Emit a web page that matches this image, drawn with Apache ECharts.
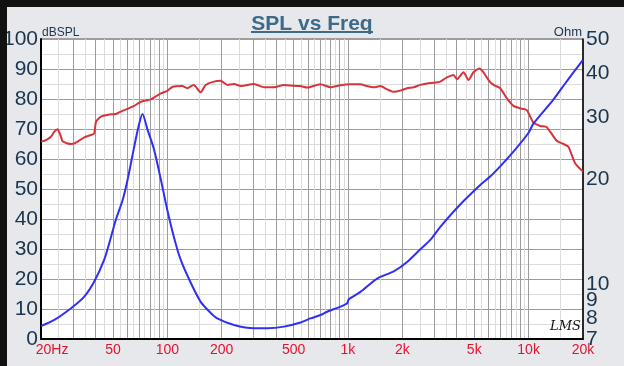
<!DOCTYPE html>
<html>
<head>
<meta charset="utf-8">
<script src="https://cdn.jsdelivr.net/npm/echarts@6/dist/echarts.min.js"></script>
<style>
html,body{margin:0;padding:0;background:#111;}
#chart{width:624px;height:366px;}
</style>
</head>
<body>
<div id="chart"></div>
<script>
// SPL curve (red, left axis dBSPL)
const splFreq = [20,21.3,22.7,23.7,24.7,25.6,26.4,29.3,30.6,34.7,37.8,39.4,40.3,42.9,48.7,51.9,55.3,65.6,71.4,81.1,92.1,100,107,121,129,140,153,163,181,197,215,234,255,302,343,389,442,501,546,595,676,705,800,909,1030,1170,1280,1390,1510,1650,1790,1950,2120,2310,2510,2740,2980,3240,3530,3840,4010,4360,4650,4950,5330,5630,6000,6390,6960,7580,8240,8970,9770,10600,11600,12600,14300,15600,16600,18100,20000];
const splDb = [65.8,66.3,67.4,69.1,69.9,68.0,65.8,65.0,65.2,67.2,68.0,68.5,72.4,74.1,74.9,75.0,75.8,77.7,79.1,79.9,81.9,82.7,84.1,84.3,83.6,84.7,82.2,84.7,85.8,86.1,84.7,85.0,84.3,85.0,83.9,83.9,84.7,84.4,84.3,83.8,84.7,84.9,83.9,84.6,84.9,84.9,84.3,83.9,84.3,83.2,82.4,82.8,83.6,83.9,84.7,85.2,85.4,85.8,87.2,88.0,86.6,88.9,86.3,88.9,90.2,88.9,86.3,84.7,83.6,80.2,77.7,76.9,76.3,72.2,71.0,70.6,66.1,65.0,64.1,58.6,55.8];

// Impedance curve (blue, right axis Ohm)
const impFreq = [20,23.7,29.3,34.7,39.4,44.7,47.7,51.9,56.6,60.3,65.6,69.3,72.9,77.7,84.5,92.1,100,109,118.7,135,153,174,189,234,302,358,442,546,620,705,767,909,990,1010,1172,1450,1791,2124,2514,2856,3244,4182,5396,6128,6958,8242,9972,10628,13710,16256,20000];
const impOhm = [7.62,7.93,8.56,9.24,10.2,11.75,13.1,15.3,17.4,19.9,24.7,28.2,30.6,27.6,24.2,19.9,16.3,13.6,11.75,10.1,8.93,8.3,8.01,7.67,7.51,7.51,7.59,7.80,8.01,8.19,8.37,8.65,8.85,9.08,9.53,10.4,10.9,11.6,12.6,13.4,14.6,16.9,19.2,20.3,21.7,23.9,27.0,28.7,33.6,37.9,43.6];

// Axis ticks
const freqLabels = [20,50,100,200,500,1000,2000,5000,10000,20000];
const ohmLabels = [7,9,10,20,30,40,50];
const ohmLabelsExtra = [8];
const freqMajorGrid = [];
const freqMinorGrid = [];
[10,100,1000,10000].forEach(function(d){
  for (let k=1;k<=9;k++){
    const a=k*d, b=(k+0.5)*d;
    if (a>=20 && a<=20000) freqMajorGrid.push(a);
    if (b>=20 && b<=20000) freqMinorGrid.push(b);
  }
});
freqMajorGrid.push(20000);

const FONT = "'Liberation Sans', Arial, sans-serif";
const chart = echarts.init(document.getElementById('chart'));

function fmtFreq(v){
  if (Math.abs(v-20)<0.01) return '{first|20Hz}';
  if (v>=1000) return Math.round(v/1000)+'k';
  return String(Math.round(v));
}
function ohmAxis(labels, showLine){
  return {
    type: 'log', logBase: 10, min: 6.999, max: 50.001, position: 'right',
    axisLine: {show: showLine, lineStyle: {color: '#000', width: 1.5}},
    axisTick: {show: false},
    axisLabel: {customValues: labels, margin: 3, color: '#1b3550', fontFamily: FONT, fontSize: 21,
      lineHeight: 15, showMinLabel: true, showMaxLabel: true, hideOverlap: false,
      formatter: function(v){ return String(Math.round(v)); }},
    splitLine: {show: false}
  };
}

chart.setOption({
  backgroundColor: '#e7e8eb',
  animation: false,
  title: {
    text: 'SPL vs Freq',
    left: 'center',
    top: 9,
    textStyle: {fontFamily: FONT, fontSize: 21, fontWeight: 'bold', color: '#3c6a88'}
  },
  grid: {left: 40, right: 41, top: 39, bottom: 27, show: true, backgroundColor: '#ffffff', borderColor: '#555', borderWidth: 1},
  xAxis: [{
    type: 'log', logBase: 10, min: 20, max: 20000,
    axisLine: {show: true, onZero: false, lineStyle: {color: '#000', width: 2}},
    axisTick: {show: false, customValues: freqMajorGrid},
    axisLabel: {
      customValues: freqLabels, margin: 4, color: '#e3142e', fontFamily: FONT, fontSize: 14,
      formatter: fmtFreq,
      rich: {first: {color: '#e3142e', fontFamily: FONT, fontSize: 14, padding: [0,0,0,22]}}
    },
    splitLine: {show: true, lineStyle: {color: '#9c9c9c', width: 1}}
  },{
    type: 'log', logBase: 10, min: 20, max: 20000, position: 'bottom',
    axisLine: {show: false},
    axisTick: {show: false, customValues: freqMinorGrid},
    axisLabel: {show: false},
    splitLine: {show: true, lineStyle: {color: '#dcdcdc', width: 1}}
  }],
  yAxis: [{
    type: 'value', min: 0, max: 100, interval: 10,
    axisLine: {show: true, lineStyle: {color: '#000', width: 2}},
    axisTick: {show: false},
    axisLabel: {margin: 3, color: '#1b3550', fontFamily: FONT, fontSize: 21},
    splitLine: {show: true, lineStyle: {color: '#9c9c9c', width: 1}},
    minorTick: {show: false, splitNumber: 2},
    minorSplitLine: {show: true, lineStyle: {color: '#dcdcdc', width: 1}}
  }, ohmAxis(ohmLabels, true), ohmAxis(ohmLabelsExtra, false)],
  graphic: [
    {type: 'rect', left: 251, top: 31, shape: {width: 122, height: 2}, style: {fill: '#3c6a88'}, z: 10},
    {type: 'text', left: 42, top: 27, style: {text: 'dBSPL', font: '12px ' + FONT, fill: '#1b3550'}},
    {type: 'text', right: 42, top: 26, style: {text: 'Ohm', font: '13px ' + FONT, fill: '#1b3550', align: 'right'}},
    {type: 'text', left: 550, top: 320, style: {text: 'LMS', font: 'italic 13px "DejaVu Serif", serif', fill: '#111'}, z: 10},
    {type: 'rect', left: 0, top: 0, shape: {width: 624, height: 366}, style: {fill: 'none', stroke: '#111', lineWidth: 7}, z: 100}
  ],
  series: [{
    name: 'SPL', type: 'line', xAxisIndex: 0, yAxisIndex: 0,
    showSymbol: false, smooth: 0.2,
    lineStyle: {color: '#d7333b', width: 2},
    data: splFreq.map(function(f,i){return [f, splDb[i]];}),
    z: 3
  },{
    name: 'Impedance', type: 'line', xAxisIndex: 0, yAxisIndex: 1,
    showSymbol: false, smooth: 0.25,
    lineStyle: {color: '#2f2ff5', width: 2},
    data: impFreq.map(function(f,i){return [f, impOhm[i]];}),
    z: 4
  }]
});
</script>
</body>
</html>
